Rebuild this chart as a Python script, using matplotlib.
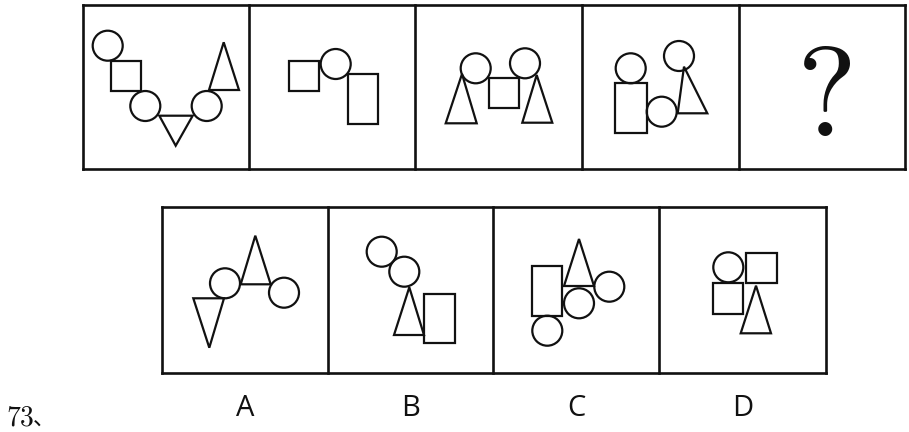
import matplotlib.pyplot as plt
from matplotlib.patches import Circle, Rectangle, Polygon

plt.rcParams["mathtext.fontset"] = "cm"

# ==========================================
# DATA (pixel coordinates, y downward)
# ==========================================

top_edges = [83, 249, 415, 582, 739, 905]
top_y = (4.5, 168.5)

bottom_edges = [162, 328, 493, 659, 826]
bottom_y = (207, 373)
option_labels = ["A", "B", "C", "D"]

R = 15

circles = [
    (107.7, 45.7), (145.3, 106), (206.7, 106),          # panel 1
    (335.7, 64),                                        # panel 2
    (475.7, 68.3), (525, 63.3),                         # panel 3
    (630.7, 68.3), (661.7, 111.7), (679, 56),           # panel 4
    (225, 283.3), (284, 292.7),                         # A
    (381.7, 251.7), (404.3, 271.7),                     # B
    (579, 303.3), (609.3, 286.7), (547.3, 330.7),       # C
    (728.3, 267.3),                                     # D
]

# x0, y0, width, height
rects = [
    (110.7, 61, 30, 30),
    (288.7, 60.7, 30.6, 30),
    (348.3, 74, 30, 50),
    (489, 77.7, 30, 30.6),
    (615, 83.3, 31.7, 50),
    (424, 294.3, 31, 49),
    (531.7, 266, 30.6, 49.7),
    (746, 252.7, 30.7, 30),
    (713.3, 283.3, 30, 30.7),
]

# apex x, apex y, base left, base right, base y
triangles = [
    (175.7, 145.7, 159.3, 192.7, 115.7),
    (223.7, 42.3, 209, 239, 90),
    (462, 74, 445.7, 476.7, 123.3),
    (536.7, 75, 522.3, 552.3, 122.7),
    (684, 66.7, 677.7, 707.3, 113.3),
    (209.3, 347.7, 193.3, 224, 298.3),
    (255.3, 235.7, 240.7, 270.7, 284.3),
    (409.3, 287.3, 394, 424, 335),
    (579, 239, 564, 594, 286),
    (756, 285.7, 740.7, 771, 333.3),
]


# ==========================================
# PLOT
# ==========================================

fig = plt.figure(figsize=(9.09, 4.32), dpi=100)
ax = fig.add_axes([0, 0, 1, 1])
ax.set_xlim(0, 909)
ax.set_ylim(432, 0)
ax.axis("off")

ink = "#111111"
box_lw = 1.9
shape_lw = 1.6

# panel frames
for edges, (y0, y1) in [(top_edges, top_y), (bottom_edges, bottom_y)]:
    ax.plot([edges[0], edges[-1]], [y0, y0], color=ink, lw=box_lw,
            solid_capstyle="projecting")
    ax.plot([edges[0], edges[-1]], [y1, y1], color=ink, lw=box_lw,
            solid_capstyle="projecting")
    for x in edges:
        ax.plot([x, x], [y0, y1], color=ink, lw=box_lw)

for cx, cy in circles:
    ax.add_patch(Circle((cx, cy), R, fill=False, ec=ink, lw=shape_lw))

for x0, y0, w, h in rects:
    ax.add_patch(Rectangle((x0, y0), w, h, fill=False, ec=ink, lw=shape_lw))

for ax_, ay, bl, br, by in triangles:
    ax.add_patch(Polygon([(ax_, ay), (bl, by), (br, by)], closed=True,
                         fill=False, ec=ink, lw=shape_lw, joinstyle="miter"))

# question mark
ax.text(824, 136, r"$?$", fontsize=92, ha="center", va="baseline", color=ink)

# option labels
for i, lab in enumerate(option_labels):
    xc = (bottom_edges[i] + bottom_edges[i + 1]) / 2
    ax.text(xc, 409, lab, fontsize=21, ha="center", va="center",
            family="Open Sans", color=ink)

# question number
ax.text(6, 431, r"$73$", fontsize=20, ha="left", va="bottom", color=ink)
ax.text(33, 431, "、", fontsize=16, ha="left", va="bottom",
        family=["Noto Sans CJK SC", "DejaVu Sans"], color=ink)

plt.savefig("out.png", dpi=100)
plt.close()
